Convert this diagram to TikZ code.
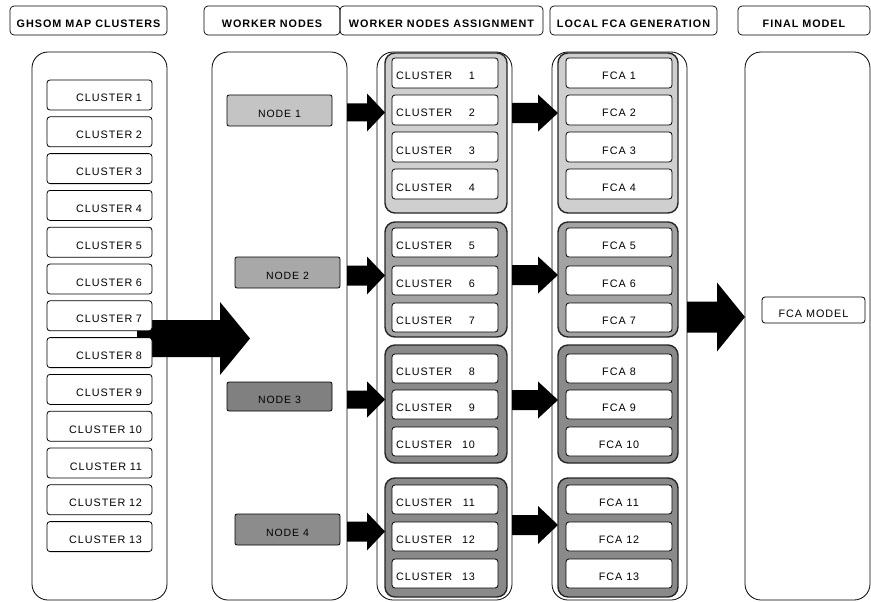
\documentclass[tikz,border=0pt]{standalone}
\usepackage{fontspec}
\setmainfont{Liberation Sans}[LetterSpace=9]
\usetikzlibrary{calc}
\newcommand\bx[7][]{\node[#1, minimum width={((#5)-(#3))*1pt}, minimum height={((#6)-(#4))*1pt}] (#2) at ({((#3)+(#5))/2},{((#4)+(#6))/2}) {#7};}
\newcommand\blk[5]{\fill let \p1=(#1), \p2=(#2) in (\x1,\y2+#3pt) -- (\x2-#5pt,\y2+#3pt) -- (\x2-#5pt,\y2+#4pt) -- (\x2,\y2) -- (\x2-#5pt,\y2-#4pt) -- (\x2-#5pt,\y2-#3pt) -- (\x1,\y2-#3pt) -- cycle;}
\begin{document}
\begin{tikzpicture}[x=1pt,y=-1pt,
  every node/.style={inner sep=0pt, outer sep=0pt},
  low/.style={text height=14pt, text depth=0pt},
  hdr/.style={draw, low, rounded corners=4pt, line width=0.7pt, font=\fontsize{10.8}{12}\selectfont\bfseries},
  colbox/.style={draw, rounded corners=16pt, line width=0.8pt},
  cl/.style={draw, low, rounded corners=3pt, fill=white, line width=0.8pt, font=\fontsize{10.8}{12}\selectfont},
  wn/.style={draw, low, rounded corners=2pt, line width=0.8pt, font=\fontsize{10.5}{12}\selectfont},
  grp/.style={draw=black!85, rounded corners=10pt, line width=1.4pt}
]
\useasboundingbox (0,0) rectangle (871,602);
% headers
\bx[hdr]{h1}{10}{6}{167}{35}{GHSOM MAP CLUSTERS}
\bx[hdr]{h2}{204}{6}{340}{35}{WORKER NODES}
\bx[hdr]{h3}{340}{6}{543}{35}{WORKER NODES ASSIGNMENT}
\bx[hdr]{h4}{550}{6}{717}{35}{LOCAL FCA GENERATION}
\bx[hdr]{h5}{738}{6}{870}{35}{FINAL MODEL}
% columns
\bx[colbox]{c1}{32}{52}{167}{600}{}
\bx[colbox]{c2}{212}{52}{347}{600}{}
\bx[colbox]{c3}{377}{52}{512}{600}{}
\bx[colbox]{c4}{552}{52}{687}{600}{}
\bx[colbox]{c5}{745}{52}{870}{600}{}
% big arrow from clusters to worker nodes (behind the cluster boxes)
\coordinate (s0) at (137,338.5);
\coordinate (t0) at ($(c2.west |- s0)+(38,0)$);
\blk{s0}{t0}{18.5}{36.5}{30}
% column 1 clusters
\foreach \i in {1,...,13}{
  \bx[cl, text width=85pt, align=right]{k\i}{47}{80+(\i-1)*36.8}{152}{110+(\i-1)*36.8}{CLUSTER \i}
}
% worker nodes
\bx[wn, fill=black!23]{n1}{227}{95}{332}{126}{NODE 1}
\bx[wn, fill=black!34]{n2}{235}{257}{340}{288}{NODE 2}
\bx[wn, fill=black!50]{n3}{227}{382}{332}{411}{NODE 3}
\bx[wn, fill=black!45]{n4}{235}{514}{340}{545}{NODE 4}
% groups
\bx[grp, fill=black!19]{g1}{385}{53}{507}{213}{}
\bx[grp, fill=black!36]{g2}{385}{222}{507}{337}{}
\bx[grp, fill=black!46]{g3}{385}{345}{507}{463}{}
\bx[grp, fill=black!46]{g4}{385}{478}{507}{597}{}
\bx[grp, fill=black!19]{f1}{558}{53}{678}{213}{}
\bx[grp, fill=black!36]{f2}{558}{222}{678}{337}{}
\bx[grp, fill=black!46]{f3}{558}{345}{678}{463}{}
\bx[grp, fill=black!46]{f4}{558}{478}{678}{597}{}
% assignment clusters and FCA boxes
\foreach \i/\y/\h in {1/58/30,2/95/30,3/132/30,4/169/30,5/228/29,6/266/29,7/303/29,8/354/29,9/390/29,10/427/29,11/485/29,12/522/29,13/559/29}{
  \bx[cl]{a\i}{392}{\y}{498}{\y+\h}{\makebox[98pt]{CLUSTER\hfill\i\hspace*{19pt}}}
  \bx[cl]{q\i}{566}{\y}{672}{\y+\h}{FCA \i}
}
% final model
\bx[cl]{fm}{762}{297}{865}{323}{FCA MODEL}
% arrows
\blk{c2.east}{$(g1.west |- n1.center)+(0,2)$}{9}{19}{18}
\blk{c2.east}{$(g2.west |- n2.center)+(0,3)$}{10}{19}{18}
\blk{c2.east}{$(g3.west |- n3.center)+(0,3)$}{9}{18}{18}
\blk{c2.east}{$(g4.west |- n4.center)+(0,2)$}{10}{19}{18}
\blk{c3.east}{$(f1.west |- 0,113)$}{10}{18.5}{20}
\blk{c3.east}{$(f2.west |- 0,275)$}{10}{18.5}{20}
\blk{c3.east}{$(f3.west |- 0,400)$}{10}{18.5}{20}
\blk{c3.east}{$(f4.west |- 0,525)$}{10}{19}{20}
\blk{c4.east}{$(c5.west |- 0,317)$}{15.5}{34.5}{28}
\end{tikzpicture}
\end{document}
